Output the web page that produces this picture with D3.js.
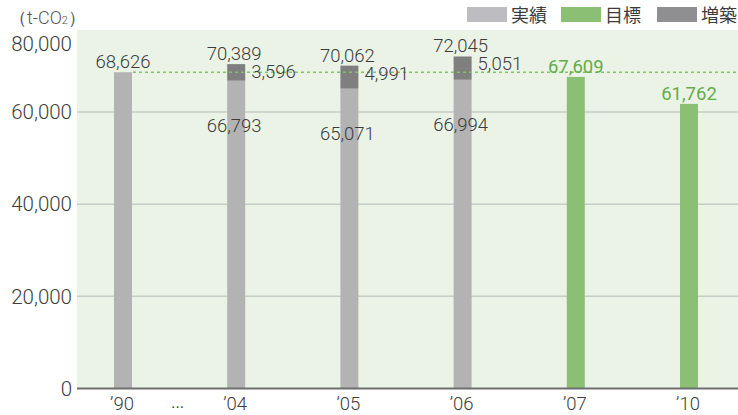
<!DOCTYPE html>
<html>
<head>
<meta charset="utf-8">
<script src="https://cdn.jsdelivr.net/npm/d3@7/dist/d3.min.js"></script>
<style>
  html, body { margin: 0; padding: 0; background: #fff; }
  svg { display: block; font-family: Roboto, "Noto Sans", sans-serif; font-weight: 300; }
</style>
</head>
<body>
<svg id="chart" width="738" height="415"></svg>
<script>
// CO2 emissions (t-CO2): results, extension share and targets
const categories = ["’90", "’04", "’05", "’06", "’07", "’10"];
const actualBase = [68626, 66793, 65071, 66994, null, null];
const extension  = [null, 3596, 4991, 5051, null, null];
const actualTotal = [68626, 70389, 70062, 72045, null, null];
const targets    = [null, null, null, null, 67609, 61762];
const yTicks = [0, 20000, 40000, 60000, 80000];
const legendItems = ["実績", "目標", "増築"];

const W = 738, H = 415;
const plot = { left: 77, right: 738, top: 30, bottom: 388.5 };

const colors = {
  base: "#b3b3b3",
  ext: "#7f7f7f",
  target: "#8bbf73",
  targetText: "#62ad47",
  legendBase: "#bdbdc1",
  legendExt: "#8f8f91",
  bg: "#ebf3e7",
  grid: "#c9cbc6",
  axis: "#6e6e6e",
  text: "#3c3c3c"
};

const svg = d3.select("#chart");
const fmt = d3.format(",");

const y = d3.scaleLinear()
  .domain([0, 60000])
  .range([plot.bottom, 112]);

const x = d3.scalePoint()
  .domain(categories)
  .range([123, 689]);

const barW = 18;

// plot background
svg.append("rect")
  .attr("x", plot.left).attr("y", plot.top)
  .attr("width", plot.right - plot.left).attr("height", plot.bottom - plot.top)
  .attr("fill", colors.bg);

// gridlines
svg.append("g").selectAll("line")
  .data(yTicks.filter(t => t > 0 && y(t) > plot.top))
  .join("line")
  .attr("x1", plot.left).attr("x2", plot.right)
  .attr("y1", d => y(d)).attr("y2", d => y(d))
  .attr("stroke", colors.grid).attr("stroke-width", 1.5);

// y tick labels (top one held inside the chart area)
svg.append("g").selectAll("text")
  .data(yTicks)
  .join("text")
  .attr("x", 72)
  .attr("y", d => Math.max(y(d), 43.5))
  .attr("dy", "0.35em")
  .attr("text-anchor", "end")
  .attr("font-size", 20.5)
  .attr("fill", colors.text)
  .text(d => fmt(d));

// unit label
const unit = svg.append("text")
  .attr("x", 9).attr("y", 24)
  .attr("font-size", 18)
  .attr("fill", "#555");
unit.append("tspan").text("（t-CO");
unit.append("tspan").attr("font-size", 11).text("2");
unit.append("tspan").text("）");

const idx = categories.map((c, i) => i);

// result bars (base part)
svg.append("g").selectAll("rect")
  .data(idx.filter(i => actualBase[i] != null))
  .join("rect")
  .attr("x", i => x(categories[i]) - barW / 2)
  .attr("width", barW)
  .attr("y", i => y(actualBase[i]))
  .attr("height", i => y(0) - y(actualBase[i]))
  .attr("fill", colors.base);

// extension part stacked on top
svg.append("g").selectAll("rect")
  .data(idx.filter(i => extension[i] != null))
  .join("rect")
  .attr("x", i => x(categories[i]) - barW / 2)
  .attr("width", barW)
  .attr("y", i => y(actualBase[i] + extension[i]))
  .attr("height", i => y(actualBase[i]) - y(actualBase[i] + extension[i]))
  .attr("fill", colors.ext);

// target bars
svg.append("g").selectAll("rect")
  .data(idx.filter(i => targets[i] != null))
  .join("rect")
  .attr("x", i => x(categories[i]) - barW / 2)
  .attr("width", barW)
  .attr("y", i => y(targets[i]))
  .attr("height", i => y(0) - y(targets[i]))
  .attr("fill", colors.target);

// dotted reference line at the 1990 level
svg.append("line")
  .attr("x1", x(categories[0]) + barW / 2 + 1).attr("x2", plot.right)
  .attr("y1", y(actualTotal[0])).attr("y2", y(actualTotal[0]))
  .attr("stroke", "#84c563").attr("stroke-width", 1.5)
  .attr("stroke-dasharray", "3,3");

// baseline axis
svg.append("line")
  .attr("x1", plot.left).attr("x2", plot.right)
  .attr("y1", plot.bottom).attr("y2", plot.bottom)
  .attr("stroke", colors.axis).attr("stroke-width", 2);

const labels = svg.append("g")
  .attr("font-size", 18.5)
  .attr("fill", colors.text);

// total labels above result bars
labels.selectAll("text.total")
  .data(idx.filter(i => actualTotal[i] != null))
  .join("text")
  .attr("class", "total")
  .attr("x", i => x(categories[i]) - (i === 0 ? 0 : 2))
  .attr("y", i => y(actualTotal[i]) - 4)
  .attr("text-anchor", "middle")
  .text(i => fmt(actualTotal[i]));

// extension labels right of the bars
labels.selectAll("text.ext")
  .data(idx.filter(i => extension[i] != null))
  .join("text")
  .attr("class", "ext")
  .attr("x", i => x(categories[i]) + barW / 2 + 6)
  .attr("y", i => y(actualTotal[i]) + 14)
  .text(i => fmt(extension[i]));

// base labels inside the result bars
labels.selectAll("text.base")
  .data(idx.filter(i => extension[i] != null))
  .join("text")
  .attr("class", "base")
  .attr("x", i => x(categories[i]) - 2)
  .attr("y", i => y(actualBase[i]) + 51)
  .attr("text-anchor", "middle")
  .text(i => fmt(actualBase[i]));

// target labels
svg.append("g").selectAll("text")
  .data(idx.filter(i => targets[i] != null))
  .join("text")
  .attr("x", i => x(categories[i]))
  .attr("y", i => y(targets[i]) - 4)
  .attr("text-anchor", "middle")
  .attr("font-size", 18.5)
  .attr("font-weight", 400)
  .attr("fill", colors.targetText)
  .text(i => fmt(targets[i]));

// category labels
svg.append("g").selectAll("text")
  .data(categories)
  .join("text")
  .attr("x", d => x(d) - 1)
  .attr("y", 410)
  .attr("text-anchor", "middle")
  .attr("font-size", 18.5)
  .attr("fill", colors.text)
  .text(d => d);

// gap marker between 1990 and 2004
svg.append("text")
  .attr("x", (x(categories[0]) + x(categories[1])) / 2 - 2)
  .attr("y", 408)
  .attr("text-anchor", "middle")
  .attr("font-size", 22)
  .attr("fill", colors.text)
  .text("…");

// legend
const legendColors = [colors.legendBase, colors.target, colors.legendExt];
const legendX = [467, 561, 657];
const lg = svg.append("g").selectAll("g")
  .data(legendItems)
  .join("g")
  .attr("transform", (d, i) => `translate(${legendX[i]},7)`);
lg.append("rect")
  .attr("width", 40).attr("height", 15)
  .attr("fill", (d, i) => legendColors[i]);
lg.append("text")
  .attr("x", 44).attr("y", 15)
  .attr("font-family", "'Noto Sans CJK JP', sans-serif")
  .attr("font-weight", 400)
  .attr("font-size", 18)
  .attr("fill", colors.text)
  .text(d => d);
</script>
</body>
</html>
